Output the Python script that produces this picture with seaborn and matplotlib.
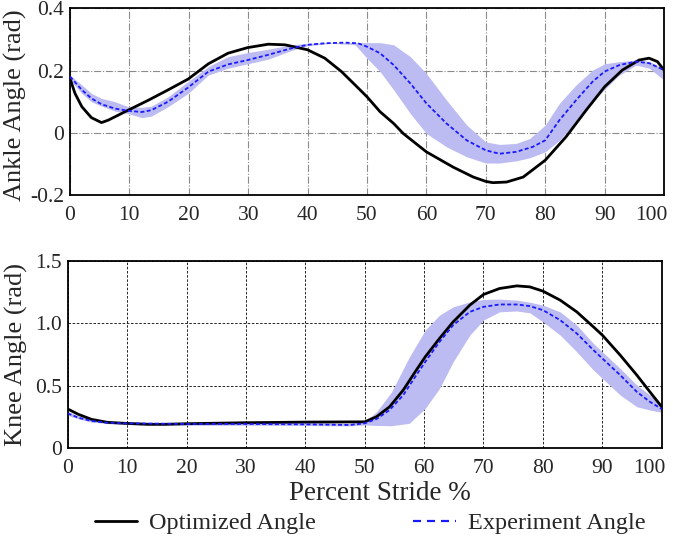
import pandas as pd
import seaborn as sns
import matplotlib.pyplot as plt
import matplotlib.transforms as mtransforms
from matplotlib.lines import Line2D

# ankle angle (rad) vs percent stride
ankle_opt_x = [0, 0.84, 2, 3.6, 5.3, 6.45, 9.8, 13.2, 16.5, 19.9, 23.3, 26.6, 29.9, 33.4, 36.2, 40, 42.9, 45.7, 48, 50,
               52.2, 54.5, 56.1, 60, 64.5, 67.9, 70, 71.2, 73.5, 76.3, 80, 83.5, 86.9, 90, 93, 95.8, 97.5, 98.9, 100]
ankle_opt = [0.175, 0.127, 0.084, 0.049, 0.033, 0.041, 0.073, 0.105, 0.138, 0.173, 0.222, 0.256, 0.274, 0.285, 0.283,
             0.267, 0.24, 0.197, 0.154, 0.116, 0.068, 0.03, -0.002, -0.061, -0.11, -0.142, -0.156, -0.16, -0.158,
             -0.142, -0.088, -0.013, 0.073, 0.148, 0.202, 0.234, 0.24, 0.229, 0.202]

ankle_exp_x = [0, 2, 3.6, 5.3, 7.6, 9.8, 12.1, 13.7, 16.5, 19.9, 23.3, 26.6, 29.9, 33.4, 37.3, 40, 42.9, 46.3, 48.5, 50,
               52.2, 54.5, 57.3, 60, 63.4, 66.8, 70, 72.3, 75.1, 77.9, 80, 82.4, 85.2, 88, 90, 92.5, 95.3, 97.5, 100]
ankle_exp = [0.181, 0.138, 0.111, 0.092, 0.078, 0.071, 0.067, 0.073, 0.1, 0.146, 0.197, 0.22, 0.234, 0.251, 0.272,
             0.283, 0.288, 0.29, 0.288, 0.277, 0.256, 0.218, 0.159, 0.095, 0.03, -0.024, -0.056, -0.067, -0.061,
             -0.045, -0.024, 0.041, 0.105, 0.165, 0.197, 0.218, 0.229, 0.224, 0.202]

ankle_band_x = [0, 2, 3.6, 5.3, 7.6, 9.8, 12.1, 13.7, 16.5, 19.9, 23.3, 26.6, 29.9, 33.4, 37.3, 40, 44, 48, 50, 52.2,
                54.5, 57.3, 60, 63.4, 66.8, 70, 72.3, 75.1, 77.4, 80, 82.4, 85.2, 88, 90, 92.5, 95.3, 97.5, 100]
ankle_hi = [0.186, 0.154, 0.127, 0.111, 0.1, 0.084, 0.082, 0.086, 0.116, 0.165, 0.213, 0.245, 0.258, 0.269, 0.283,
            0.288, 0.29, 0.29, 0.29, 0.29, 0.283, 0.245, 0.191, 0.105, 0.025, -0.029, -0.037, -0.034, -0.018, 0.025,
            0.095, 0.154, 0.202, 0.222, 0.229, 0.234, 0.23, 0.205]
ankle_lo = [0.17, 0.127, 0.1, 0.086, 0.07, 0.062, 0.049, 0.054, 0.084, 0.127, 0.186, 0.208, 0.222, 0.237, 0.265,
            0.28, 0.288, 0.283, 0.24, 0.197, 0.138, 0.062, -0.002, -0.045, -0.077, -0.097, -0.097, -0.09, -0.08,
            -0.061, -0.024, 0.035, 0.1, 0.14, 0.186, 0.218, 0.208, 0.17]

# knee angle (rad) vs percent stride
knee_opt_x = [0, 1.8, 4, 6.7, 9.7, 13.5, 16.3, 20, 30, 40, 50, 52, 54.2, 56.5, 58.7, 60.2, 62.6, 64.9, 67.7, 70,
              72.7, 75.6, 77.8, 80, 82.9, 85.7, 88.5, 90, 93, 95.8, 98, 100]
knee_opt = [0.315, 0.272, 0.232, 0.208, 0.2, 0.192, 0.192, 0.197, 0.205, 0.21, 0.212, 0.253, 0.333, 0.467, 0.627,
            0.733, 0.88, 1.013, 1.147, 1.232, 1.28, 1.301, 1.293, 1.259, 1.187, 1.093, 0.973, 0.907, 0.747, 0.587,
            0.453, 0.333]

knee_exp_x = [0, 1.8, 4, 6.7, 9.7, 20, 30, 40, 47.5, 50, 52, 54.2, 56.5, 58.7, 60.2, 62.6, 64.9, 67.7, 70, 72.7,
              75.6, 77.8, 80, 82.9, 85.7, 88.5, 90, 93, 95.8, 98, 100]
knee_exp = [0.28, 0.245, 0.219, 0.205, 0.2, 0.195, 0.195, 0.192, 0.187, 0.2, 0.235, 0.307, 0.427, 0.587, 0.693,
            0.853, 0.987, 1.093, 1.133, 1.152, 1.152, 1.139, 1.107, 1.027, 0.92, 0.787, 0.72, 0.587, 0.453, 0.373,
            0.315]

knee_band_x = [0, 1.8, 4, 6.7, 9.7, 20, 30, 40, 47.5, 50, 52, 54.5, 57.5, 60.2, 62.6, 64.9, 67.7, 70, 72.7, 75.6,
               77.8, 80, 82.9, 85.7, 88.5, 90, 93, 95.8, 98, 100]
knee_hi = [0.295, 0.26, 0.232, 0.215, 0.21, 0.205, 0.205, 0.203, 0.2, 0.213, 0.293, 0.45, 0.73, 0.947, 1.067, 1.133,
           1.173, 1.192, 1.195, 1.187, 1.17, 1.147, 1.093, 0.987, 0.84, 0.773, 0.64, 0.507, 0.427, 0.347]
knee_lo = [0.265, 0.235, 0.21, 0.198, 0.19, 0.185, 0.185, 0.183, 0.18, 0.187, 0.183, 0.181, 0.2, 0.32, 0.48, 0.693,
           0.907, 1.027, 1.093, 1.1, 1.085, 1.013, 0.907, 0.773, 0.627, 0.56, 0.427, 0.333, 0.307, 0.288]

ankle_ticks = [-0.2, 0, 0.2, 0.4]
ankle_ticklabels = ['-0.2', '0', '0.2', '0.4']
knee_ticks = [0, 0.5, 1.0, 1.5]
knee_ticklabels = ['0', '0.5', '1.0', '1.5']
stride_ticks = list(range(0, 101, 10))

sns.set_style('white')
plt.rcParams['font.family'] = ['Liberation Serif', 'DejaVu Serif']

fig = plt.figure(figsize=(6.73, 5.36), dpi=100)
ax1 = fig.add_axes([0.104, 0.636, 0.8826, 0.3483])
ax2 = fig.add_axes([0.1006, 0.1636, 0.8826, 0.3494])

band_color = '#bcbcf2'
opt_kw = dict(color='black', linewidth=2.0)
exp_kw = dict(color='#1a1aff', linewidth=1.3, linestyle=(0, (2.2, 1.3)))

# ankle
ax1.fill_between(ankle_band_x, ankle_lo, ankle_hi, color=band_color, linewidth=0, zorder=1)
sns.lineplot(x=ankle_exp_x, y=ankle_exp, ax=ax1, zorder=3, **exp_kw)
sns.lineplot(x=ankle_opt_x, y=ankle_opt, ax=ax1, zorder=2, **opt_kw)
ax1.set_ylim(-0.2, 0.4)
ax1.set_yticks(ankle_ticks)
ax1.set_yticklabels(ankle_ticklabels)
ax1.set_ylabel('Ankle Angle (rad)', fontsize=19, va='center')
ax1.yaxis.set_label_coords(-0.091, 0.48)
ax1.grid(True, color='#8c8c8c', linestyle='-.', linewidth=0.8)

# knee
ax2.fill_between(knee_band_x, knee_lo, knee_hi, color=band_color, linewidth=0, zorder=1)
sns.lineplot(x=knee_exp_x, y=knee_exp, ax=ax2, zorder=3, **exp_kw)
sns.lineplot(x=knee_opt_x, y=knee_opt, ax=ax2, zorder=2, **opt_kw)
ax2.set_ylim(0, 1.5)
ax2.set_yticks(knee_ticks)
ax2.set_yticklabels(knee_ticklabels)
ax2.set_ylabel('Knee Angle (rad)', fontsize=19, va='center')
ax2.yaxis.set_label_coords(-0.087, 0.5)
ax2.set_xlabel('Percent Stride %', fontsize=19.5, va='center')
ax2.xaxis.set_label_coords(0.526, -0.239)
ax2.grid(True, color='black', linestyle=(0, (3, 2)), linewidth=0.6)

shift_left = mtransforms.ScaledTranslation(-9 / 72, 0, fig.dpi_scale_trans)
for ax in (ax1, ax2):
    ax.set_xlim(0, 100)
    ax.set_xticks(stride_ticks)
    ax.tick_params(length=0, labelsize=15.5)
    ax.tick_params(axis='x', pad=8)
    ax.tick_params(axis='y', pad=4)
    ax.set_axisbelow(True)
    for s in ax.spines.values():
        s.set_color('black')
        s.set_linewidth(1.3)
    # last label is pulled in so it stays on the page
    last = ax.get_xticklabels()[-1]
    last.set_transform(last.get_transform() + shift_left)

handles = [Line2D([], [], **opt_kw),
           Line2D([], [], color='#1a1aff', linewidth=1.6, linestyle=(0, (3.6, 2.7)))]
fig.legend(handles, ['Optimized Angle', 'Experiment Angle'], loc='center',
           bbox_to_anchor=(0.55, 0.024), ncol=2, frameon=False, fontsize=17.5,
           columnspacing=4.0, handlelength=1.75, handletextpad=0.5)

fig.savefig('out.png', dpi=100)
